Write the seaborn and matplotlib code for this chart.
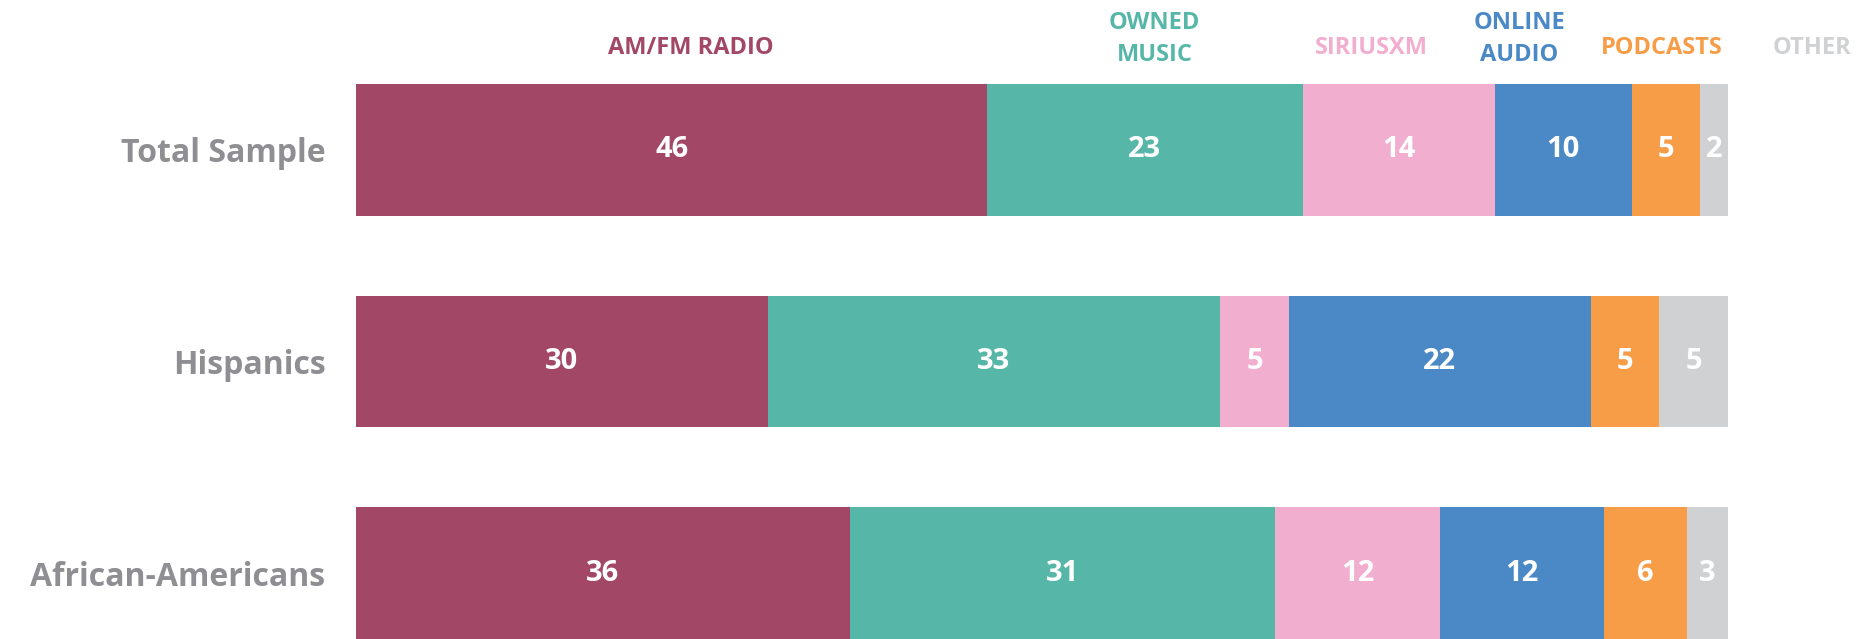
import numpy as np
import pandas as pd
import matplotlib
matplotlib.use('Agg')
import matplotlib.pyplot as plt
import seaborn as sns

# data (percent share of listening time)
groups = ['Total Sample', 'Hispanics', 'African-Americans']
sources = ['AM/FM RADIO', 'OWNED\nMUSIC', 'SIRIUSXM', 'ONLINE\nAUDIO', 'PODCASTS', 'OTHER']
am_fm = [46, 30, 36]
owned_music = [23, 33, 31]
siriusxm = [14, 5, 12]
online_audio = [10, 22, 12]
podcasts = [5, 5, 6]
other = [2, 5, 3]

colors = ['#A34766', '#56B7A9', '#F2AECF', '#4A89C6', '#F79D48', '#D0D1D3']
label_gray = '#8E8E93'

sns.set_style('white')
plt.rcParams['font.family'] = ['Open Sans', 'DejaVu Sans']

series = [am_fm, owned_music, siriusxm, online_audio, podcasts, other]
df = pd.DataFrame(np.array(series).T, index=groups, columns=sources)
cum = df.cumsum(axis=1)

fig = plt.figure(figsize=(18.74, 6.39), dpi=100)
ax = fig.add_axes([0.19, 0.0, 0.732, 0.8685])

# stacked bars: draw cumulative totals from the end backwards
for i in range(len(sources) - 1, -1, -1):
    sns.barplot(x=cum.iloc[:, i].values, y=groups, orient='h', color=colors[i],
                saturation=1, width=0.623, linewidth=0, ax=ax)

# segment values
for i, src in enumerate(sources):
    for j, g in enumerate(groups):
        v = df.loc[g, src]
        ax.text(cum.loc[g, src] - v / 2, j, str(v), color='white', fontsize=21,
                fontweight='bold', ha='center', va='center')

# header labels above the top bar
head_x = [24.4, 58.2, 74.0, 84.8, 95.2, 106.1]
for x, src, c in zip(head_x, sources, colors):
    ax.text(x, -0.48 if '\n' not in src else -0.525, src, color=c, fontsize=17,
            fontweight='bold', ha='center', va='center', linespacing=1.45,
            clip_on=False)

ax.set_xlim(0, 100)
ax.set_ylim(2.3115, -0.3115)
ax.set_xlabel('')
ax.set_ylabel('')
ax.set_xticks([])
ax.tick_params(axis='y', length=0, pad=22, labelsize=23, labelcolor=label_gray)
for lab in ax.get_yticklabels():
    lab.set_fontweight('bold')
sns.despine(ax=ax, left=True, bottom=True)

fig.savefig('out.png', dpi=100)
